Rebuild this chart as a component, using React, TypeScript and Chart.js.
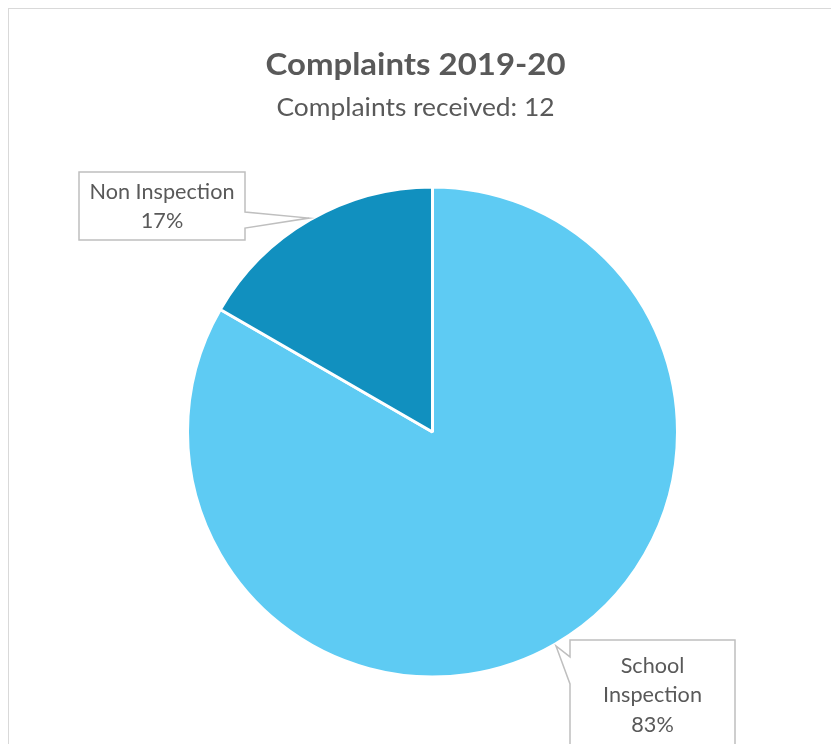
import React, { useEffect, useRef } from "react";
import { Chart, registerables } from "chart.js";

Chart.register(...registerables);

// ---- data ----
const categories = ["School Inspection", "Non Inspection"];
const complaintCounts = [10, 2];
const sliceColors = ["#5ECBF3", "#1190BF"];
const titleText = "Complaints 2019-20";
const subtitleText = "Complaints received: 12";

// ---- styles ----
const FONT = "Lato, 'Open Sans', sans-serif";
const TEXT_COLOR = "#595959";
const TITLE_STYLE = { size: 31, weight: "bold", width: 300, baseline: 75 };
const SUBTITLE_STYLE = { size: 25, weight: "normal", width: 278, baseline: 116 };
const LABEL_STYLE = { size: 21, refText: "Non Inspection", refWidth: 145, lineHeight: 29.5 };

const calloutStyles = [
  { dx: 96.5, dy: 49, w: 165, h: 110, side: "left", baseFrom: 17, baseTo: 44 },
  { dx: -147, dy: -12, w: 166, h: 68, side: "right", baseFrom: 40, baseTo: 56 },
];

function drawScaled(ctx: CanvasRenderingContext2D, text: string, x: number, y: number, sx: number) {
  ctx.save();
  ctx.translate(x, y);
  ctx.scale(sx, 1);
  ctx.textAlign = "center";
  ctx.textBaseline = "alphabetic";
  ctx.fillText(text, 0, 0);
  ctx.restore();
}

const titlePlugin = {
  id: "customTitles",
  afterDraw(chart: any) {
    const ctx: CanvasRenderingContext2D = chart.ctx;
    const cx = chart.width / 2;
    ctx.save();
    ctx.fillStyle = TEXT_COLOR;
    for (const [text, st] of [
      [titleText, TITLE_STYLE],
      [subtitleText, SUBTITLE_STYLE],
    ] as any) {
      ctx.font = `${st.weight} ${st.size}px ${FONT}`;
      const m = ctx.measureText(text).width;
      drawScaled(ctx, text, cx, st.baseline, st.width / m);
    }
    ctx.restore();
  },
};

const calloutPlugin = {
  id: "callouts",
  afterDatasetsDraw(chart: any) {
    const ctx: CanvasRenderingContext2D = chart.ctx;
    const meta = chart.getDatasetMeta(0);
    const values: number[] = chart.data.datasets[0].data;
    const total = values.reduce((a, b) => a + b, 0);
    ctx.save();
    ctx.font = `normal ${LABEL_STYLE.size}px ${FONT}`;
    const sx = LABEL_STYLE.refWidth / ctx.measureText(LABEL_STYLE.refText).width;
    meta.data.forEach((arc: any, i: number) => {
      const { x, y, startAngle, endAngle, outerRadius } = arc.getProps(
        ["x", "y", "startAngle", "endAngle", "outerRadius"],
        true
      );
      const mid = (startAngle + endAngle) / 2;
      const tx = x + Math.cos(mid) * (outerRadius + 2);
      const ty = y + Math.sin(mid) * (outerRadius + 2);
      const st = calloutStyles[i];
      const cx = tx + st.dx;
      const cy = ty + st.dy;
      const left = cx - st.w / 2;
      const top = cy - st.h / 2;
      const right = left + st.w;
      const bottom = top + st.h;

      ctx.beginPath();
      ctx.moveTo(left, top);
      ctx.lineTo(right, top);
      if (st.side === "right") {
        ctx.lineTo(right, top + st.baseFrom);
        ctx.lineTo(tx, ty);
        ctx.lineTo(right, top + st.baseTo);
      }
      ctx.lineTo(right, bottom);
      ctx.lineTo(left, bottom);
      if (st.side === "left") {
        ctx.lineTo(left, top + st.baseTo);
        ctx.lineTo(tx, ty);
        ctx.lineTo(left, top + st.baseFrom);
      }
      ctx.closePath();
      ctx.fillStyle = "#FFFFFF";
      ctx.fill();
      ctx.strokeStyle = "#BFBFBF";
      ctx.lineWidth = 1.5;
      ctx.stroke();

      // wrap label text
      const maxW = st.w - 14;
      const words = String(chart.data.labels[i]).split(" ");
      const lines: string[] = [];
      let cur = "";
      for (const w of words) {
        const trial = cur ? cur + " " + w : w;
        if (ctx.measureText(trial).width * sx <= maxW || !cur) cur = trial;
        else {
          lines.push(cur);
          cur = w;
        }
      }
      if (cur) lines.push(cur);
      lines.push(Math.round((values[i] / total) * 100) + "%");

      ctx.fillStyle = TEXT_COLOR;
      const lh = LABEL_STYLE.lineHeight;
      const cap = LABEL_STYLE.size * 0.72;
      lines.forEach((ln, k) => {
        const lineCenter = cy + (k - (lines.length - 1) / 2) * lh;
        drawScaled(ctx, ln, cx, lineCenter + cap / 2, sx);
      });
    });
    ctx.restore();
  },
};

export default function App() {
  const canvasRef = useRef<HTMLCanvasElement | null>(null);

  useEffect(() => {
    if (!canvasRef.current) return;
    const chart = new Chart(canvasRef.current, {
      type: "pie",
      data: {
        labels: categories,
        datasets: [
          {
            data: complaintCounts,
            backgroundColor: sliceColors,
            borderColor: "#FFFFFF",
            borderWidth: 3,
          },
        ],
      },
      options: {
        animation: false,
        responsive: false,
        devicePixelRatio: 1,
        radius: 245,
        layout: { padding: { left: 34, right: 0, top: 120, bottom: 0 } },
        plugins: {
          legend: { display: false },
          title: { display: false },
          tooltip: { enabled: false },
        },
      } as any,
      plugins: [titlePlugin, calloutPlugin],
    });
    return () => chart.destroy();
  }, []);

  return (
    <div
      style={{
        position: "fixed",
        left: 0,
        top: 0,
        width: 831,
        height: 744,
        overflow: "hidden",
        background: "#FFFFFF",
      }}
    >
      <div
        style={{
          position: "absolute",
          left: 8,
          top: 8,
          width: 1000,
          height: 1000,
          border: "1px solid #D9D9D9",
          boxSizing: "border-box",
        }}
      />
      <canvas
        ref={canvasRef}
        width={831}
        height={744}
        style={{ position: "absolute", left: 0, top: 0 }}
      />
    </div>
  );
}
